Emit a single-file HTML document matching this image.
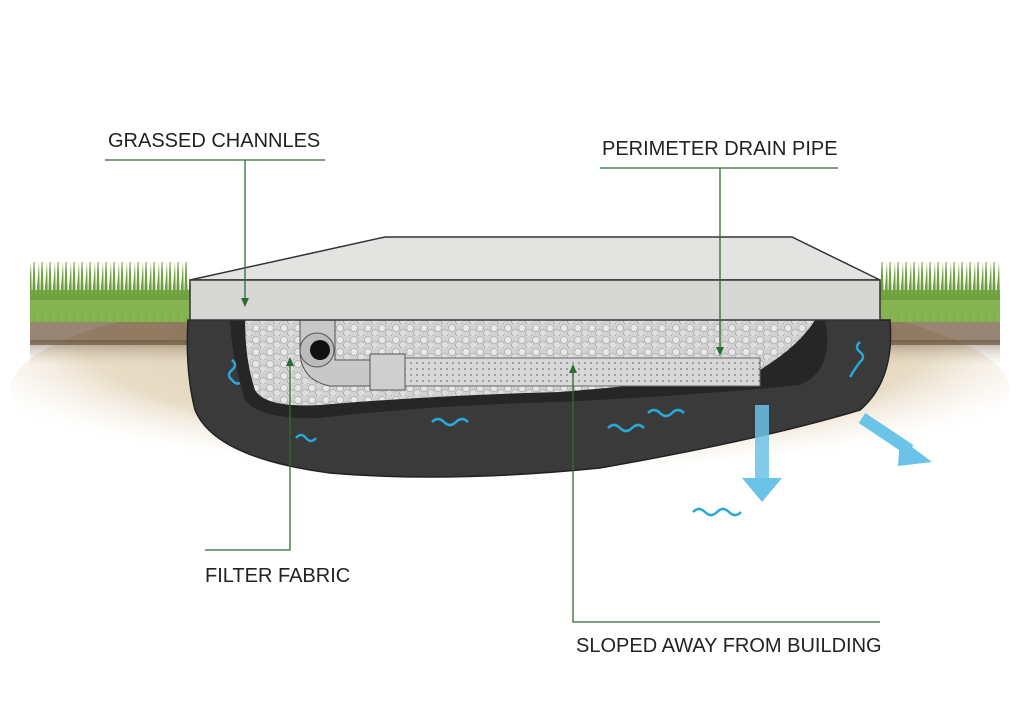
<!DOCTYPE html>
<html><head><style>
body{margin:0;background:#fff;}
svg{display:block;}
text{font-family:"Liberation Sans",sans-serif;font-size:20px;fill:#222;}
</style></head><body>
<svg width="1024" height="707" viewBox="0 0 1024 707">
<defs>
<radialGradient id="soil" cx="0.5" cy="0.3" r="0.6">
<stop offset="0" stop-color="#d9c7a8"/><stop offset="0.7" stop-color="#e8dcc6"/><stop offset="1" stop-color="#fff" stop-opacity="0"/>
</radialGradient>
<linearGradient id="top" x1="0" y1="0" x2="0" y2="1">
<stop offset="0" stop-color="#5e4a35"/><stop offset="1" stop-color="#c7b293" stop-opacity="0"/>
</linearGradient>
<pattern id="grav" width="14" height="12" patternUnits="userSpaceOnUse">
<rect width="14" height="12" fill="#d2d2d2"/>
<circle cx="4" cy="4" r="3.5" fill="#e8e8e8" stroke="#9a9a9a" stroke-width="0.6"/>
<circle cx="11" cy="9" r="3.5" fill="#dedede" stroke="#9a9a9a" stroke-width="0.6"/>
</pattern>
<pattern id="dots" width="6" height="6" patternUnits="userSpaceOnUse">
<rect width="6" height="6" fill="#d8d8d8"/><circle cx="3" cy="3" r="0.9" fill="#777"/>
</pattern>
<pattern id="grass" width="8" height="60" patternUnits="userSpaceOnUse">
<path d="M0 60 L2 10 L4 60 M4 60 L7 22 L8 60" fill="#6fa03e"/>
</pattern>
</defs>
<ellipse cx="510" cy="390" rx="500" ry="110" fill="url(#soil)"/>
<rect x="30" y="320" width="970" height="25" fill="#6b5238" opacity="0.7"/>
<rect x="30" y="340" width="970" height="25" fill="url(#top)" opacity="0.5"/>
<!-- grass -->
<rect x="30" y="290" width="160" height="32" fill="#86b452"/>
<rect x="30" y="262" width="160" height="60" fill="url(#grass)"/>
<rect x="880" y="290" width="120" height="32" fill="#86b452"/>
<rect x="880" y="262" width="120" height="60" fill="url(#grass)"/>
<!-- dark fabric -->
<path d="M188 320 L890 320 Q895 380 860 410 Q760 440 600 468 Q450 483 330 473 Q215 458 195 410 Q185 370 188 320Z" fill="#3a3a3a" stroke="#222" stroke-width="1.5"/>
<path d="M230 320 L825 320 Q835 370 800 385 Q700 395 560 402 Q430 405 320 418 Q260 420 245 400 Q232 360 230 320Z" fill="#262626"/>
<path d="M245 320 L815 320 Q800 345 760 370 Q650 385 560 392 Q440 395 320 405 Q265 408 255 390 Q245 360 245 320Z" fill="url(#grav)"/>
<!-- pipe -->
<rect x="370" y="358" width="390" height="28" fill="url(#dots)" stroke="#666"/>
<rect x="370" y="354" width="35" height="36" fill="#cfcfcf" stroke="#555"/>
<path d="M300 320 L335 320 L335 360 L370 360 L370 386 L330 386 Q300 380 300 350Z" fill="#c8c8c8" stroke="#555"/>
<circle cx="317" cy="350" r="17" fill="#bbb" stroke="#555"/>
<circle cx="320" cy="350" r="10" fill="#111"/>
<!-- slab -->
<path d="M190 280 L385 237 L792 237 L880 280Z" fill="#e3e3e1" stroke="#333" stroke-width="1.5"/>
<rect x="190" y="280" width="690" height="40" fill="#d7d7d5" stroke="#333" stroke-width="1.5"/>
<g fill="none" stroke="#2aa8d8" stroke-width="2.5">
<path d="M432 422 q6 -6 12 0 t12 0 t12 0"/>
<path d="M608 428 q6 -6 12 0 t12 0 t12 0"/>
<path d="M648 413 q6 -6 12 0 t12 0 t12 0"/>
<path d="M693 512 q6 -6 12 0 t12 0 t12 0 t12 0"/>
<path d="M296 438 q5 -6 10 0 t10 0"/>
<path d="M232 360 q6 5 0 10 t0 10 q4 5 8 3"/>
<path d="M860 342 q-6 5 0 10 t0 10 q-4 5 -10 15"/>
</g>
<rect x="755" y="405" width="14" height="75" fill="#6cc3e8" opacity="0.85"/>
<path d="M742 478 L782 478 L762 502Z" fill="#6cc3e8"/>
<path d="M862 418 L910 450" stroke="#6cc3e8" stroke-width="12"/>
<path d="M900 438 L932 462 L898 466Z" fill="#6cc3e8"/>
<g stroke="#2e6b34" stroke-width="1.3" fill="none">
<line x1="105" y1="160" x2="325" y2="160"/><line x1="245" y1="160" x2="245" y2="300"/>
<line x1="600" y1="168" x2="838" y2="168"/><line x1="720" y1="168" x2="720" y2="350"/>
<polyline points="205,550 290,550 290,362"/>
<polyline points="880,622 573,622 573,370"/>
</g>
<g fill="#2e6b34">
<path d="M241 298 L249 298 L245 307Z"/><path d="M716 347 L724 347 L720 356Z"/>
<path d="M286 366 L294 366 L290 357Z"/><path d="M569 373 L577 373 L573 364Z"/>
</g>
<text x="108" y="147">GRASSED CHANNLES</text>
<text x="602" y="155">PERIMETER DRAIN PIPE</text>
<text x="205" y="582">FILTER FABRIC</text>
<text x="576" y="652">SLOPED AWAY FROM BUILDING</text>
</svg>
</body></html>
